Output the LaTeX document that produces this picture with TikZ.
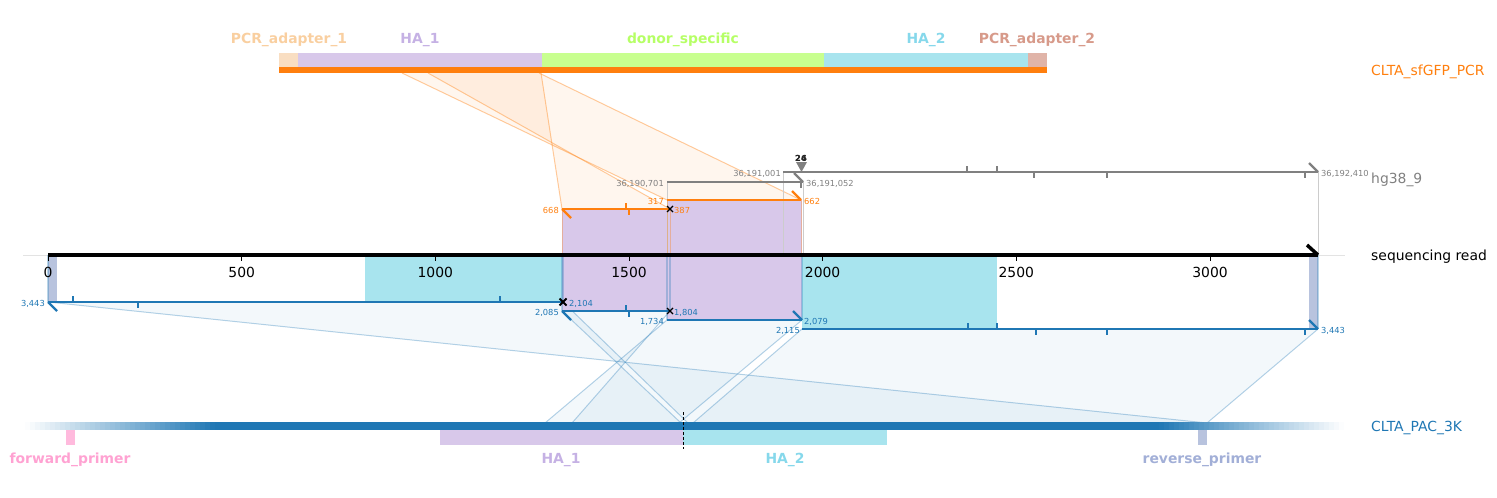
\documentclass[tikz,border=0pt]{standalone}
\usepackage{fontspec}
\setmainfont{DejaVu Sans}
\definecolor{orgC}{HTML}{FF7F0E}
\definecolor{bluC}{HTML}{1F77B4}
\definecolor{gryC}{HTML}{808080}
\definecolor{guideC}{HTML}{E3E3E3}
\definecolor{projG}{HTML}{CCCCCC}
\definecolor{adAbox}{HTML}{F9DEC2}
\definecolor{adAtxt}{HTML}{F9CFA0}
\definecolor{haAbox}{HTML}{D8C8EA}
\definecolor{haAtxt}{HTML}{C5B1E4}
\definecolor{donbox}{HTML}{C8FF8F}
\definecolor{dontxt}{HTML}{B6FF66}
\definecolor{haBbox}{HTML}{A8E4EE}
\definecolor{haBtxt}{HTML}{86D8EB}
\definecolor{adBbox}{HTML}{E0B4A8}
\definecolor{adBtxt}{HTML}{D79A8A}
\definecolor{fwdbox}{HTML}{FFBADD}
\definecolor{fwdtxt}{HTML}{FFA2D2}
\definecolor{revbox}{HTML}{B8C3DE}
\definecolor{revtxt}{HTML}{A2AFD7}
\begin{document}
\begin{tikzpicture}[x=1pt,y=-1pt,
  lbig/.style={font=\fontsize{13.9}{16}\selectfont, inner sep=0pt, yshift=-3pt},
  lsmall/.style={font=\fontsize{8.3}{10}\selectfont, inner sep=0pt, yshift=-1.6pt},
  lfeat/.style={font=\fontsize{13.9}{16}\selectfont\bfseries, inner sep=0pt, yshift=-3pt},
  alnline/.style={line width=2.3pt},
  hookline/.style={line width=2.3pt},
  tickmark/.style={line width=1.6pt},
  orgpoly/.style={fill=orgC, fill opacity=0.07},
  orgedge/.style={draw=orgC, draw opacity=0.4, line width=1pt},
  blupoly/.style={fill=bluC, fill opacity=0.055},
  bluedge/.style={draw=bluC, draw opacity=0.33, line width=1pt},
  projgray/.style={draw=projG, line width=1pt},
  projorg/.style={draw=orgC, draw opacity=0.35, line width=1pt},
  projblu/.style={draw=bluC, draw opacity=0.3, line width=1.4pt},
  xmark/.style={draw=black, line width=1.1pt}
]
\useasboundingbox (0,0) rectangle (1497,498);

% ---------- named coordinates ----------
\coordinate (r0) at (48,255);
\coordinate (rE) at (1318,255);
\coordinate (t317) at (402,73);
\coordinate (t387) at (428,73);
\coordinate (t662) at (539,73);
\coordinate (t668) at (541,73);
\coordinate (oAs) at (562,209);
\coordinate (oAe) at (670,209);
\coordinate (oBs) at (667,200);
\coordinate (oBe) at (801,200);
\coordinate (g1s) at (783,172);
\coordinate (g1e) at (1318,172);
\coordinate (g2s) at (667,182);
\coordinate (g2e) at (803,182);
\coordinate (b1s) at (48,302);
\coordinate (b1e) at (563,302);
\coordinate (b2s) at (562,311);
\coordinate (b2e) at (670,311);
\coordinate (b3s) at (667,320);
\coordinate (b3e) at (802,320);
\coordinate (b4s) at (802,329);
\coordinate (b4e) at (1318,329);
\coordinate (p1734) at (545,423);
\coordinate (p1804) at (572,423);
\coordinate (p2079) at (679,423);
\coordinate (p2085) at (681,423);
\coordinate (p2104) at (688,423);
\coordinate (p2115) at (693,423);
\coordinate (p3443) at (1207,423);

% ---------- guide line ----------
\draw[guideC, line width=0.8pt] (23,255) -- (1345,255);

% ---------- orange polygons ----------
\fill[orgpoly] (oBs) -- (oBe) -- (t662) -- (t317) -- cycle;
\fill[orgpoly] (oAs) -- (oAe) -- (t387) -- (t668) -- cycle;
\draw[orgedge] (oBs) -- (t317);
\draw[orgedge] (oBe) -- (t662);
\draw[orgedge] (oAs) -- (t668);
\draw[orgedge] (oAe) -- (t387);

% ---------- blue polygons ----------
\fill[blupoly] (b1s) -- (b1e) -- (p2104) -- (p3443) -- cycle;
\fill[blupoly] (b2s) -- (b2e) -- (p1804) -- (p2085) -- cycle;
\fill[blupoly] (b3s) -- (b3e) -- (p2079) -- (p1734) -- cycle;
\fill[blupoly] (b4s) -- (b4e) -- (p3443) -- (p2115) -- cycle;
\draw[bluedge] (b1s) -- (p3443);
\draw[bluedge] (b1e) -- (p2104);
\draw[bluedge] (b2s) -- (p2085);
\draw[bluedge] (b2e) -- (p1804);
\draw[bluedge] (b3s) -- (p1734);
\draw[bluedge] (b3e) -- (p2079);
\draw[bluedge] (b4s) -- (p2115);
\draw[bluedge] (b4e) -- (p3443);

% ---------- projections onto the read ----------
\fill[haBbox] (365,255) rectangle (563,302);
\fill[haBbox] (802,255) rectangle (997,329);
\fill[haAbox] (562,209) rectangle (670,311);
\fill[haAbox] (667,200) rectangle (802,320);
\fill[revbox] (48,255) rectangle (57,302);
\fill[revbox] (1309,255) rectangle (1318,329);

\draw[projgray] (g2s) -- (667,255);
\draw[projgray] (g2e) -- (803,255);
\draw[projgray] (g1s) -- (783,255);
\draw[projgray] (g1e) -- (rE);
\draw[projorg] (oAs) -- (562,255);
\draw[projorg] (oAe) -- (670,255);
\draw[projorg] (oBs) -- (667,255);
\draw[projorg] (oBe) -- (801,255);
\draw[projblu] (b1s) -- (r0);
\draw[projblu] (b1e) -- (563,255);
\draw[projblu] (b2s) -- (562,255);
\draw[projblu] (b2e) -- (670,255);
\draw[projblu] (b3s) -- (667,255);
\draw[projblu] (b3e) -- (802,255);
\draw[projblu] (b4e) -- (rE);

% ---------- top reference: CLTA_sfGFP_PCR ----------
\fill[adAbox] (279,53) rectangle (298,67);
\fill[haAbox] (298,53) rectangle (542,67);
\fill[donbox] (542,53) rectangle (824,67);
\fill[haBbox] (824,53) rectangle (1028,67);
\fill[adBbox] (1028,53) rectangle (1047,67);
\fill[orgC] (279,67) rectangle (1047,73);
\node[lfeat, text=adAtxt, anchor=mid] (fA1) at (289,38) {PCR\_adapter\_1};
\node[lfeat, text=haAtxt, anchor=mid] (fH1) at (420,38) {HA\_1};
\node[lfeat, text=dontxt, anchor=mid] (fDS) at (683,38) {donor\_specific};
\node[lfeat, text=haBtxt, anchor=mid] (fH2) at (926,38) {HA\_2};
\node[lfeat, text=adBtxt, anchor=mid] (fA2) at (1037,38) {PCR\_adapter\_2};

% ---------- bottom reference: CLTA_PAC_3K ----------
\fill[bluC] (214,422) rectangle (1161,430);
\foreach \i in {0,...,37} {
  \pgfmathsetmacro{\pa}{100*(\i+0.5)/38}
  \fill[bluC!\pa!white] ({25+5*\i},422) rectangle ({25+5*\i+5.3},430);
}
\foreach \i in {0,...,36} {
  \pgfmathsetmacro{\pb}{100*(\i+0.5)/37}
  \fill[bluC!\pb!white] ({1344-5*\i-5.3},422) rectangle ({1344-5*\i},430);
}
\fill[fwdbox] (66,430) rectangle (75,445);
\fill[haAbox] (440,430) rectangle (683,445);
\fill[haBbox] (683,430) rectangle (887,445);
\fill[revbox] (1198,430) rectangle (1207,445);
\draw[black, line width=1pt, dash pattern=on 3pt off 2pt] (683,412) -- (683,449);
\node[lfeat, text=fwdtxt, anchor=mid] (bF) at (70,458) {forward\_primer};
\node[lfeat, text=haAtxt, anchor=mid] (bH1) at (561,458) {HA\_1};
\node[lfeat, text=haBtxt, anchor=mid] (bH2) at (785,458) {HA\_2};
\node[lfeat, text=revtxt, anchor=mid] (bR) at (1202,458) {reverse\_primer};

% ---------- gray alignments (hg38_9) ----------
\draw[alnline, gryC] (g1s) -- (g1e);
\draw[hookline, gryC] (g1e) -- ++(-9,-9);
\draw[alnline, gryC] (g2s) -- (g2e);
\draw[hookline, gryC] (g2e) -- ++(-9,-9);
\foreach \x in {967,997} \draw[tickmark, gryC] (\x,172) -- (\x,166);
\foreach \x in {1034,1107,1305} \draw[tickmark, gryC] (\x,172) -- (\x,178);
\draw[tickmark, gryC] (801,182) -- (801,188);
\fill[gryC] (796,162) -- (807,162) -- (801.5,172) -- cycle;
\node[lsmall, text=black!85, anchor=mid, font=\fontsize{8.3}{10}\selectfont\bfseries] (ins1) at (801,157) {26};
\node[lsmall, text=black!85, anchor=mid, font=\fontsize{8.3}{10}\selectfont\bfseries] (ins2) at (801,157) {24};
\node[lsmall, text=gryC, anchor=mid east] (lg1s) at (781,172) {36,191,001};
\node[lsmall, text=gryC, anchor=mid west] (lg1e) at (1321,172) {36,192,410};
\node[lsmall, text=gryC, anchor=mid east] (lg2s) at (664,182) {36,190,701};
\node[lsmall, text=gryC, anchor=mid west] (lg2e) at (806,182) {36,191,052};

% ---------- orange alignments ----------
\draw[alnline, orgC] (oAs) -- (oAe);
\draw[hookline, orgC] (oAs) -- ++(9,9);
\draw[tickmark, orgC] (626,209) -- (626,203);
\draw[tickmark, orgC] (629,209) -- (629,215);
\draw[alnline, orgC] (oBs) -- (oBe);
\draw[hookline, orgC] (oBe) -- ++(-9,-9);
\draw[xmark] (667,206) -- (673,212) (667,212) -- (673,206);
\node[lsmall, text=orgC, anchor=mid east] (loAs) at (559,209) {668};
\node[lsmall, text=orgC, anchor=mid west] (loAe) at (674,209) {387};
\node[lsmall, text=orgC, anchor=mid east] (loBs) at (664,200) {317};
\node[lsmall, text=orgC, anchor=mid west] (loBe) at (804,200) {662};

% ---------- blue alignments ----------
\draw[alnline, bluC] (b1s) -- (b1e);
\draw[hookline, bluC] (b1s) -- ++(9,9);
\draw[tickmark, bluC] (73,302) -- (73,296);
\draw[tickmark, bluC] (138,302) -- (138,308);
\draw[tickmark, bluC] (500,302) -- (500,296);
\draw[alnline, bluC] (b2s) -- (b2e);
\draw[hookline, bluC] (b2s) -- ++(9,9);
\draw[tickmark, bluC] (626,311) -- (626,305);
\draw[tickmark, bluC] (629,311) -- (629,317);
\draw[alnline, bluC] (b3s) -- (b3e);
\draw[hookline, bluC] (b3e) -- ++(-9,-9);
\draw[alnline, bluC] (b4s) -- (b4e);
\draw[hookline, bluC] (b4e) -- ++(-9,-9);
\foreach \x in {968,997} \draw[tickmark, bluC] (\x,329) -- (\x,323);
\foreach \x in {1036,1107,1305} \draw[tickmark, bluC] (\x,329) -- (\x,335);
\draw[xmark, line width=1.8pt] (559.5,298.5) -- (566.5,305.5) (559.5,305.5) -- (566.5,298.5);
\draw[xmark] (667,308) -- (673,314) (667,314) -- (673,308);
\node[lsmall, text=bluC, anchor=mid east] (lb1s) at (45,302) {3,443};
\node[lsmall, text=bluC, anchor=mid west] (lb1e) at (569,302) {2,104};
\node[lsmall, text=bluC, anchor=mid east] (lb2s) at (559,311) {2,085};
\node[lsmall, text=bluC, anchor=mid west] (lb2e) at (674,311) {1,804};
\node[lsmall, text=bluC, anchor=mid east] (lb3s) at (664,320) {1,734};
\node[lsmall, text=bluC, anchor=mid west] (lb3e) at (804,320) {2,079};
\node[lsmall, text=bluC, anchor=mid east] (lb4s) at (800,329) {2,115};
\node[lsmall, text=bluC, anchor=mid west] (lb4e) at (1321,329) {3,443};

% ---------- sequencing read ----------
\draw[black, line width=4pt] (r0) -- (rE);
\draw[black, line width=3.5pt] (rE) -- ++(-11,-10);
\foreach \v/\x in {0/48, 500/241.7, 1000/435.3, 1500/629, 2000/822.6, 2500/1016.3, 3000/1210} {
  \draw[black, line width=0.8pt] (\x,257) -- (\x,261);
  \node[lbig, anchor=mid] (tk\v) at (\x,272) {\v};
}

% ---------- track labels ----------
\node[lbig, text=orgC, anchor=mid west] (nPCR) at (1371,70) {CLTA\_sfGFP\_PCR};
\node[lbig, text=gryC, anchor=mid west] (nHG) at (1371,178) {hg38\_9};
\node[lbig, text=black, anchor=mid west] (nRead) at (1371,255) {sequencing read};
\node[lbig, text=bluC, anchor=mid west] (nPAC) at (1371,426) {CLTA\_PAC\_3K};
\end{tikzpicture}
\end{document}
